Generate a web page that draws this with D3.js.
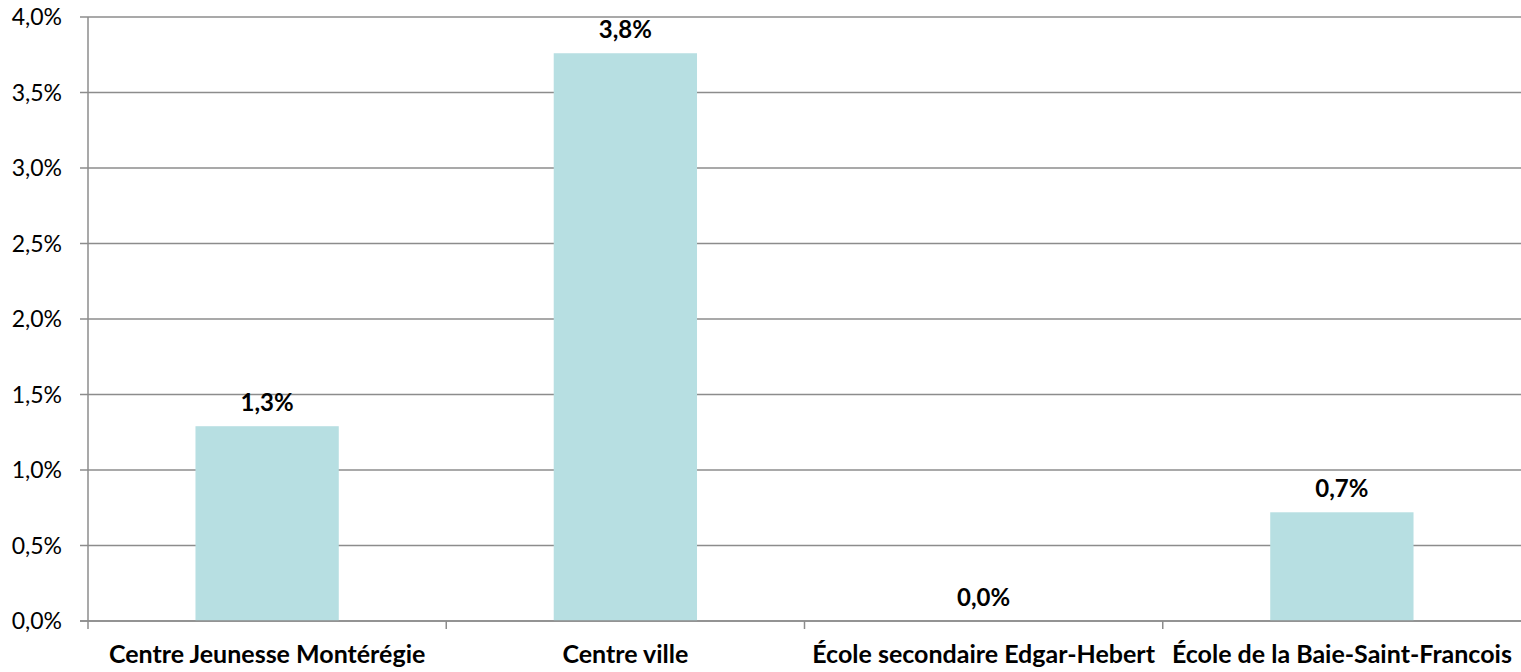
<!DOCTYPE html>
<html><head><meta charset="utf-8">
<script src="https://cdn.jsdelivr.net/npm/d3@7/dist/d3.min.js"></script>
<style>body{margin:0;background:#fff}svg{display:block}text{font-family:Lato,"Open Sans",sans-serif}</style>
</head><body><svg id="c" width="1521" height="672"></svg>
<script>
const categories = ["Centre Jeunesse Montérégie","Centre ville","École secondaire Edgar-Hebert","École de la Baie-Saint-Francois"];
const values = [1.29, 3.76, 0.0, 0.72];
const valueLabels = ["1,3%","3,8%","0,0%","0,7%"];
const yTicks = [0,0.5,1,1.5,2,2.5,3,3.5,4];
const yTickLabels = ["0,0%","0,5%","1,0%","1,5%","2,0%","2,5%","3,0%","3,5%","4,0%"];

const svg = d3.select("#c");
const m = {l:88, r:0, t:17, b:51};
const W = 1521, H = 672;
const x = d3.scaleBand().domain(categories).range([m.l, W - m.r]).paddingInner(0.6).paddingOuter(0.3);
const xb = d3.scaleBand().domain(categories).range([m.l, W - m.r]);
const y = d3.scaleLinear().domain([0,4]).range([H - m.b, m.t]);
const grid = "#8c8c8c";

svg.append("g").selectAll("line").data(yTicks).join("line")
  .attr("x1", m.l - 8).attr("x2", W).attr("y1", d => y(d)).attr("y2", d => y(d))
  .attr("stroke", grid).attr("stroke-width", 1.5);
svg.append("line").attr("x1", m.l).attr("x2", m.l).attr("y1", y(4)).attr("y2", y(0) + 8)
  .attr("stroke", grid).attr("stroke-width", 1.5);
svg.append("g").selectAll("text").data(yTicks).join("text")
  .attr("x", 62).attr("y", d => y(d)).attr("dy", "0.35em").attr("text-anchor", "end")
  .attr("font-size", 23).attr("fill", "#000").text((d,i) => yTickLabels[i]);
svg.append("g").selectAll("line").data(categories.slice(1)).join("line")
  .attr("x1", d => xb(d)).attr("x2", d => xb(d)).attr("y1", y(0)).attr("y2", y(0) + 8)
  .attr("stroke", grid).attr("stroke-width", 1.5);
svg.append("g").selectAll("rect").data(values).join("rect")
  .attr("x", (d,i) => x(categories[i])).attr("width", x.bandwidth())
  .attr("y", d => y(d)).attr("height", d => y(0) - y(d)).attr("fill", "#b7dfe2");
svg.append("line").attr("x1", m.l - 8).attr("x2", W).attr("y1", y(0)).attr("y2", y(0))
  .attr("stroke", grid).attr("stroke-width", 1.5);
svg.append("g").selectAll("text").data(values).join("text")
  .attr("x", (d,i) => x(categories[i]) + x.bandwidth()/2).attr("y", d => y(d) - 15)
  .attr("text-anchor", "middle").attr("font-size", 24).attr("font-weight", "bold").attr("fill", "#000")
  .text((d,i) => valueLabels[i]);
svg.append("g").selectAll("text").data(categories).join("text")
  .attr("x", d => xb(d) + xb.bandwidth()/2).attr("y", 663)
  .attr("text-anchor", "middle").attr("font-size", 25).attr("font-weight", "bold").attr("fill", "#000")
  .text(d => d);
</script></body></html>
